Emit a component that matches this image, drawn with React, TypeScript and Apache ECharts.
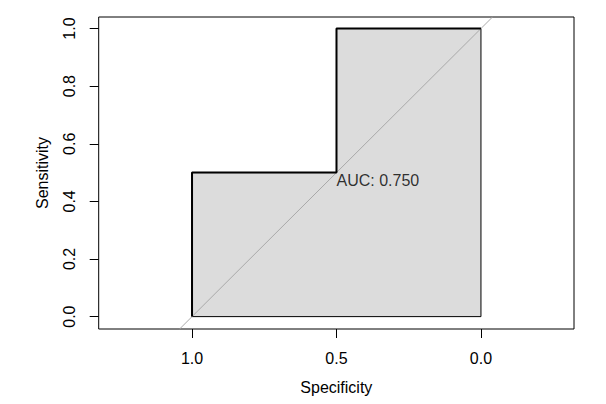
import React, { useEffect, useRef } from "react";
import * as echarts from "echarts";

const specificities = [1, 1, 0.5, 0.5, 0];
const sensitivities = [0, 0.5, 0.5, 1, 1];
const aucValue = 0.75;
const xTicks = [1.0, 0.5, 0.0];
const yTicks = [0.0, 0.2, 0.4, 0.6, 0.8, 1.0];
const diagonal = [
  [1.043, -0.043],
  [-0.04, 1.04],
];

const FONT = "'Liberation Sans', Arial, sans-serif";

export default function App() {
  const ref = useRef<HTMLDivElement>(null);
  useEffect(() => {
    if (!ref.current) return;
    const chart = echarts.init(ref.current, null, { renderer: "svg" });
    const roc = specificities.map((s, i) => [s, sensitivities[i]]);
    const polygon = [...roc, [0, 0], [1, 0]];
    const textStyle = { fontFamily: FONT, fontSize: 16, color: "#000" };
    chart.setOption({
      animation: false,
      backgroundColor: "#fff",
      textStyle: { fontFamily: FONT },
      grid: {
        left: 98.7,
        right: 32,
        top: 17,
        bottom: 75,
        show: true,
        borderColor: "#000",
        borderWidth: 1,
        backgroundColor: "transparent",
      },
      xAxis: {
        type: "value",
        inverse: true,
        min: -0.322,
        max: 1.323,
        name: "Specificity",
        nameLocation: "middle",
        nameGap: 50,
        nameTextStyle: textStyle,
        axisLine: { show: false, onZero: false },
        splitLine: { show: false },
        axisTick: {
          show: true,
          length: 9,
          customValues: xTicks,
          lineStyle: { color: "#000", width: 1 },
        },
        axisLabel: {
          ...textStyle,
          margin: 21,
          customValues: xTicks,
          formatter: (v: number) => v.toFixed(1),
        },
      },
      yAxis: {
        type: "value",
        min: -0.043,
        max: 1.04,
        name: "Sensitivity",
        nameLocation: "middle",
        nameGap: 48,
        nameTextStyle: textStyle,
        axisLine: { show: false, onZero: false },
        splitLine: { show: false },
        axisTick: {
          show: true,
          length: 9,
          customValues: yTicks,
          lineStyle: { color: "#000", width: 1 },
        },
        axisLabel: {
          ...textStyle,
          margin: 21,
          rotate: 90,
          customValues: yTicks,
          formatter: (v: number) => v.toFixed(1),
        },
      },
      series: [
        {
          type: "line",
          data: polygon,
          showSymbol: false,
          symbol: "none",
          lineStyle: { color: "#000", width: 1 },
          areaStyle: { color: "#dcdcdc", opacity: 1, origin: 0 },
          z: 1,
          silent: true,
        },
        {
          type: "line",
          data: diagonal,
          showSymbol: false,
          symbol: "none",
          lineStyle: { color: "#a9a9a9", width: 1 },
          z: 2,
          silent: true,
        },
        {
          type: "line",
          data: roc,
          showSymbol: false,
          symbol: "none",
          lineStyle: { color: "#000", width: 2 },
          z: 3,
          silent: true,
        },
        {
          type: "scatter",
          data: [[0.5, 0.5]],
          symbolSize: 0,
          z: 4,
          silent: true,
          label: {
            show: true,
            position: [0, 0],
            align: "left",
            verticalAlign: "top",
            formatter: () => "AUC: " + aucValue.toFixed(3),
            ...textStyle,
          },
        },
      ],
    });
    return () => chart.dispose();
  }, []);
  return (
    <div
      ref={ref}
      style={{ position: "fixed", left: 0, top: 0, width: 606, height: 404 }}
    />
  );
}
